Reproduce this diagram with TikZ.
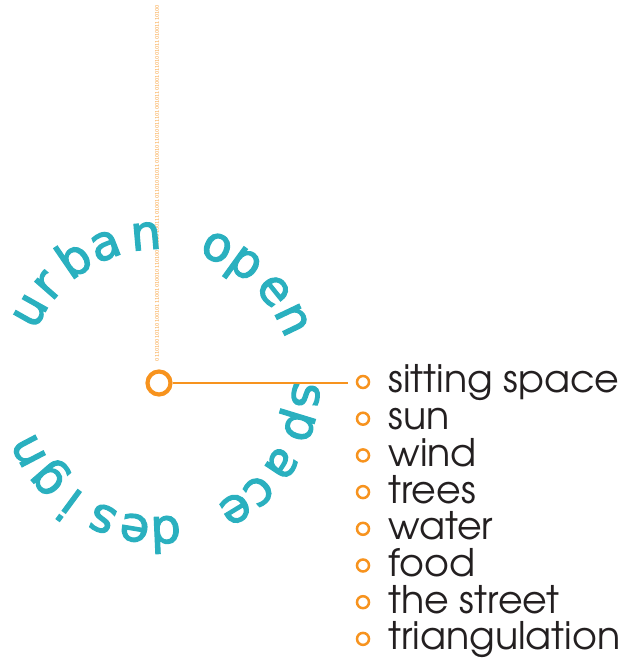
\documentclass[tikz,border=0pt]{standalone}
\usepackage{fontspec}
\setmainfont{DejaVu Sans}
\newfontfamily\listfont{TeX Gyre Adventor}
\newfontfamily\ringfont[FakeBold=2.5]{DejaVu Sans}
\usetikzlibrary{positioning}
\definecolor{ringteal}{HTML}{2AB0BF}
\definecolor{hubor}{HTML}{F7931E}
\definecolor{listink}{HTML}{231F20}

\begin{document}
\begin{tikzpicture}[x=1pt,y=1pt]
\useasboundingbox (0,0) rectangle (623,660);
% binary spine
\node[rotate=90, inner sep=0, text=hubor!85, font=\fontsize{5}{5}\selectfont] (spine) at (157,477) {0110100101101001011100101001011010010110100111010010110100101101001011010011101001011010010110100101101001110100};
% hub and spoke
\node[circle, draw=hubor, line width=4.2pt, minimum size=23pt, inner sep=0] (hub) at (159,277) {};
\coordinate (spokeend) at (348,277);
\draw[hubor, line width=2.6pt] (hub) -- (spokeend);
% ring of letters
\begin{scope}[shift={(159,277)}]
\foreach \ch/\ang [count=\k] in {u/150.7, r/138.8, b/124.4, a/111.3, n/95.1,
    o/66.8, p/54.2, e/38.8, n/25.5,
    s/-4.8, p/-17, a/-33.4, c/-47.2, e/-58.6,
    d/-87.4, e/-99.5, s/-112.6, i/-126.4, g/-138.9, n/-152.4}
  \node[anchor=base, inner sep=0, rotate=\ang-90, text=ringteal, font=\ringfont\fontsize{48}{48}\selectfont] (ch\k) at (\ang:134) {\ch};
\end{scope}
% list
\foreach \item [count=\k from 0] in {sitting space, sun, wind, trees, water, food, the street, triangulation} {
  \node[circle, draw=hubor, line width=2.5pt, minimum size=12pt, inner sep=0] (dot\k) at (363,278-36.7*\k) {};
  \node[right=18pt of dot\k, anchor=base west, yshift=-11pt, inner sep=0, text=listink, font=\listfont\fontsize{38}{38}\selectfont] (item\k) {\item};
}
\end{tikzpicture}
\end{document}
